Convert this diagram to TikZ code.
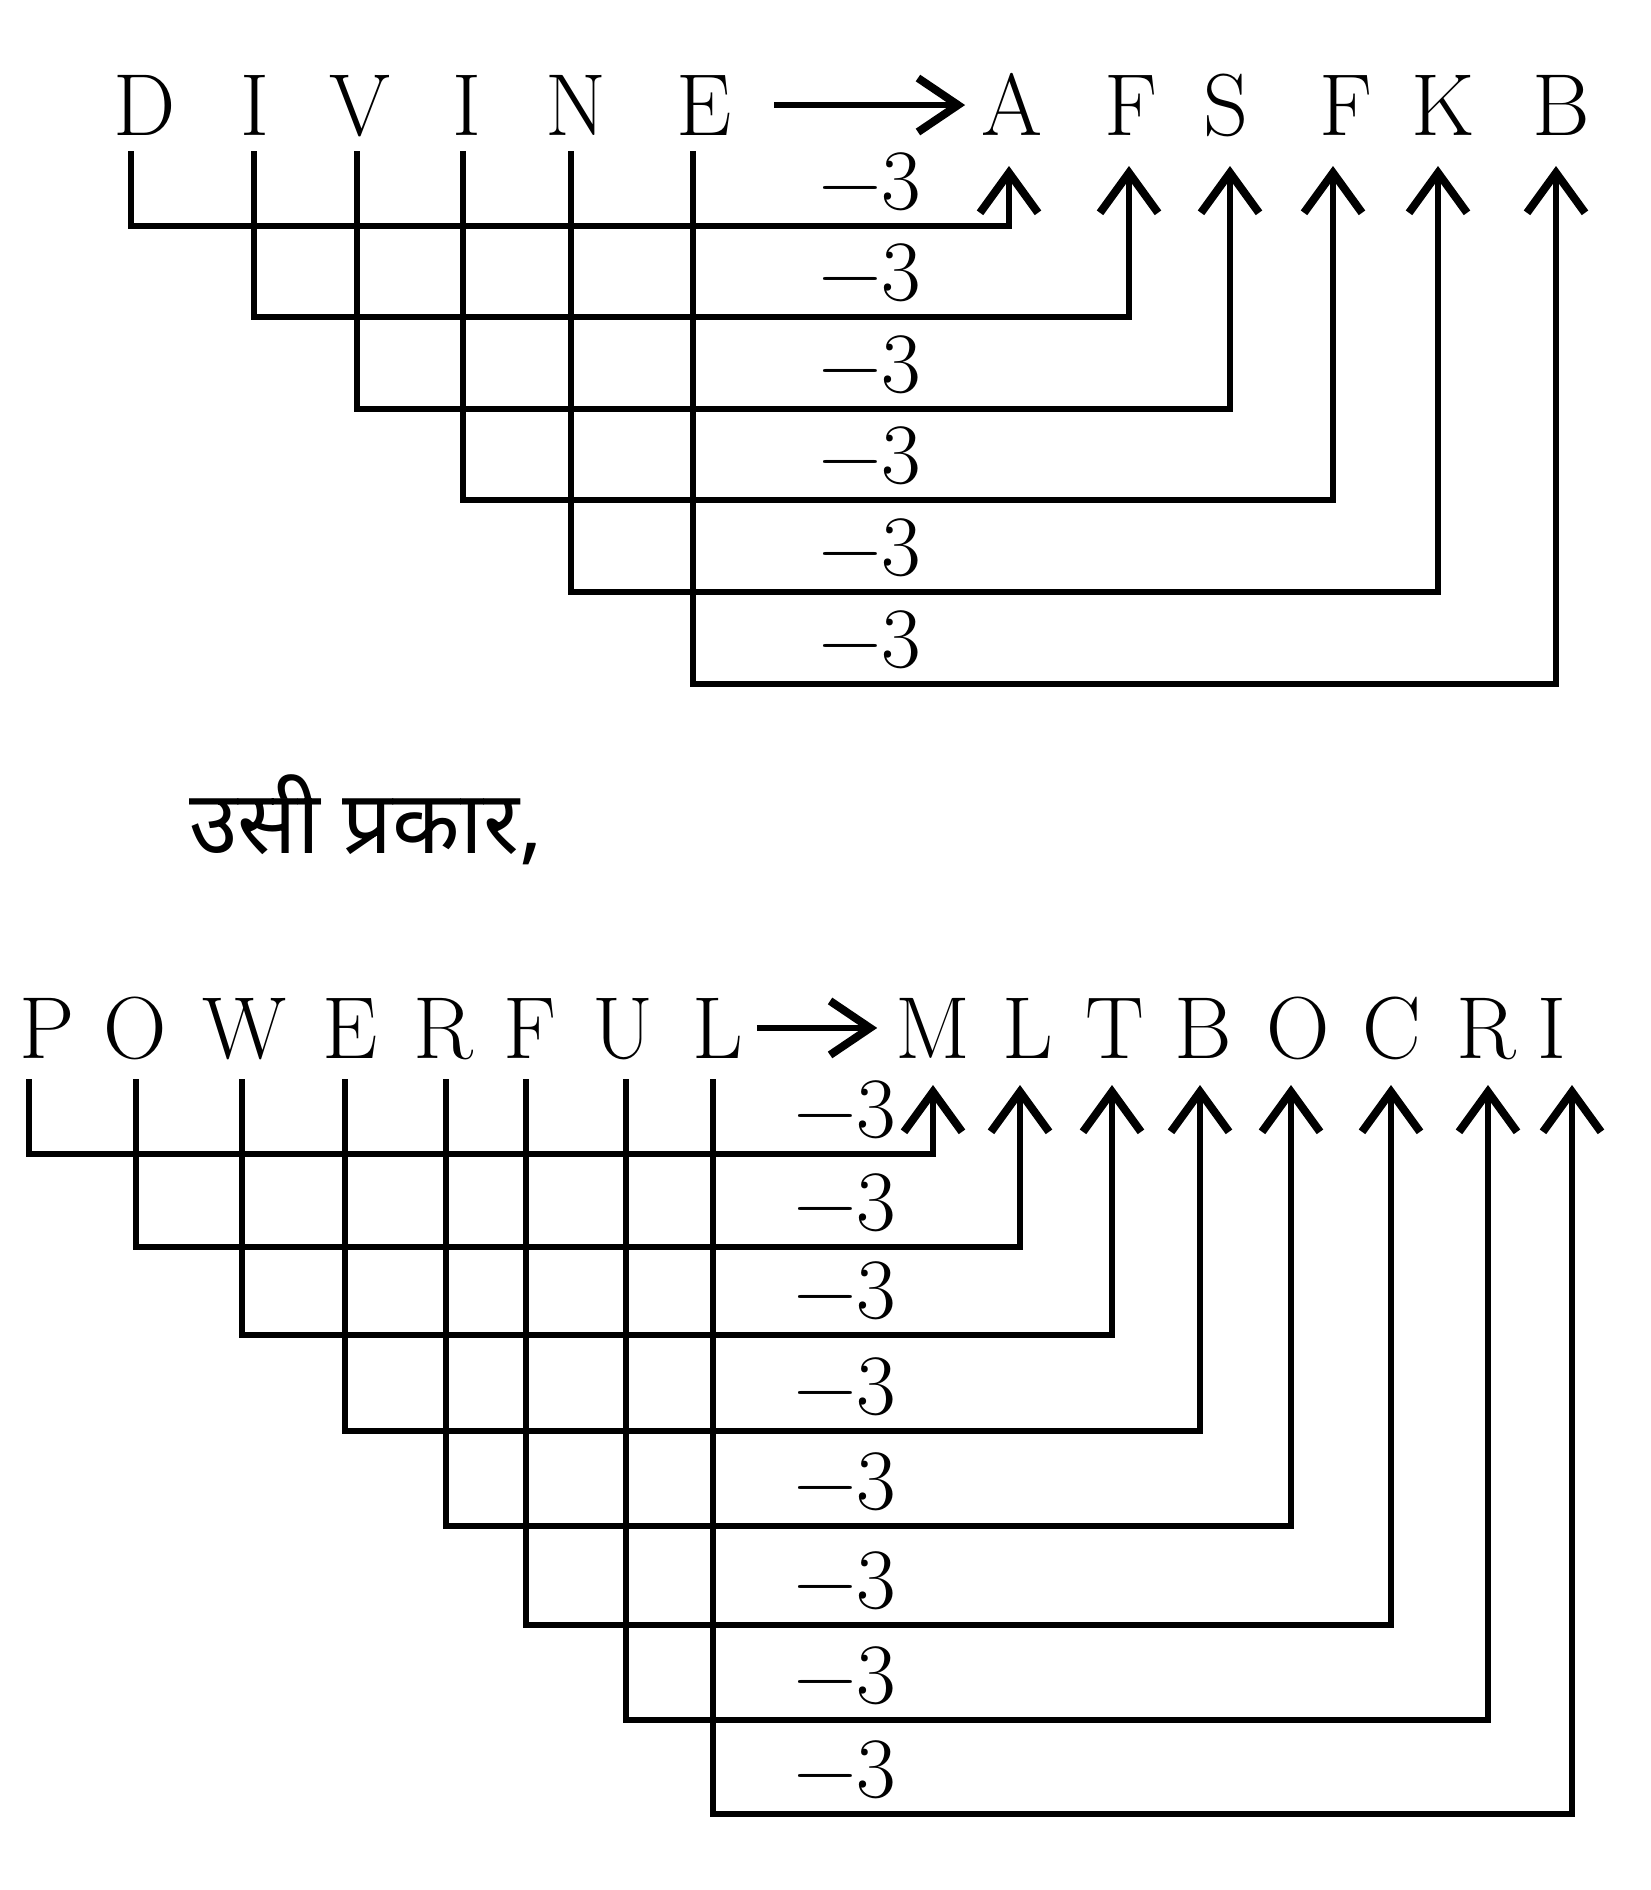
\documentclass[tikz,border=0pt]{standalone}
\usepackage{fontspec}
\newfontfamily\hindi[Script=Devanagari]{Noto Sans}
\usetikzlibrary{arrows.meta,calc}
\begin{document}
\begin{tikzpicture}[x=0.5pt,y=-0.5pt,
  letter/.style={font=\fontsize{44}{50}\selectfont, inner sep=0pt, anchor=base},
  lbl/.style={font=\fontsize{43}{50}\selectfont, inner sep=0pt},
  conn/.style={line width=3pt, line join=miter, -{Straight Barb[length=20pt,width=29pt,line width=4pt]}},
  harrow/.style={line width=3pt, -{Straight Barb[length=20pt,width=27pt,line width=4pt]}}]
\fill[white] (0,0) rectangle (1650,1890);
\useasboundingbox (0,0) rectangle (1650,1890);
% ---------- top word ----------
\foreach \n/\t/\x in {s1/D/145, s2/I/255, s3/V/360, s4/I/467, s5/N/576, s6/E/704,
                      t1/A/1012, t2/F/1131, t3/S/1226, t4/F/1346, t5/K/1443, t6/B/1561}
  \node[letter] (\n) at (\x,135) {\t};
\draw[harrow, shorten <=21pt, shorten >=8pt] (s6.east) -- (s6.east -| t1.west);
\foreach \i/\sdx/\tdx/\L in {1/-14/-3/226, 2/-1/-2/317, 3/-3/4/409, 4/-4/-13/500, 5/-5/-5/592, 6/-11/-5/684} {
  \coordinate (src\i) at ($(s\i.base)+(\sdx,16)$);
  \coordinate (tgt\i) at ($(t\i.base)+(\tdx,31)$);
  \draw[conn] (src\i) -- (src\i |- 0,\L) -| (tgt\i);
  \node[lbl] (k\i) at (870,{\L-44}) {−3};
}
% ---------- hindi text ----------
\node[font=\hindi\fontsize{44}{50}\selectfont, inner sep=0pt, anchor=base west] (hin) at (189,853) {उसी प्रकार,};
% ---------- bottom word ----------
\foreach \n/\t/\x in {p1/P/47, p2/O/135, p3/W/245, p4/E/350, p5/R/443, p6/F/530, p7/U/623, p8/L/718,
                      q1/M/933, q2/L/1028, q3/T/1115, q4/B/1203, q5/O/1298, q6/C/1392, q7/R/1486, q8/I/1552}
  \node[letter] (\n) at (\x,1058) {\t};
\draw[harrow, shorten <=6.5pt, shorten >=9pt] (p8.east) -- (p8.east -| q1.west);
\foreach \i/\sdx/\tdx/\L in {1/-18/0/1154, 2/1/-8/1247, 3/-3/-3/1335, 4/-5/-3/1431, 5/3/-7/1526, 6/-4/-1/1625, 7/3/2/1720, 8/-5/20/1814} {
  \coordinate (bsrc\i) at ($(p\i.base)+(\sdx,21)$);
  \coordinate (btgt\i) at ($(q\i.base)+(\tdx,27)$);
  \draw[conn] (bsrc\i) -- (bsrc\i |- 0,\L) -| (btgt\i);
  \node[lbl] (bk\i) at (845,{\L-44}) {−3};
}
\end{tikzpicture}
\end{document}
